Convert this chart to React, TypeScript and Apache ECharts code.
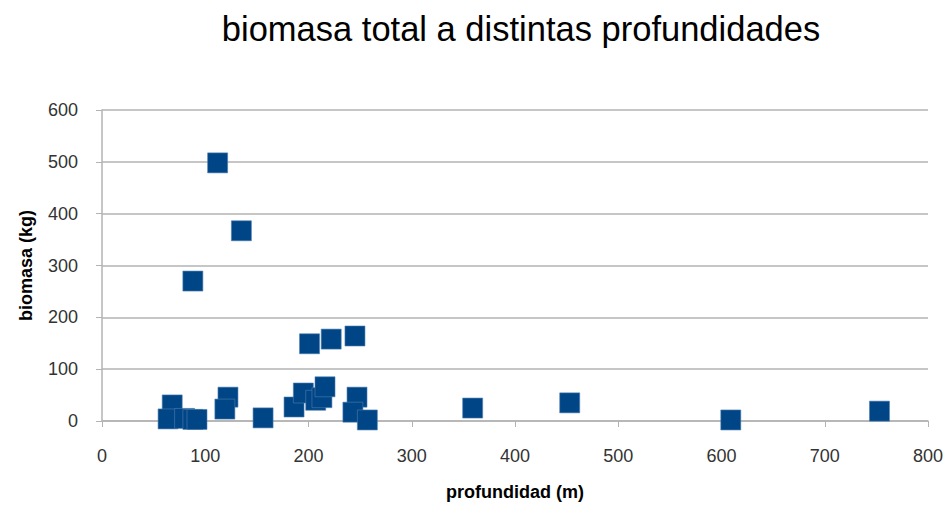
import React, { useEffect, useRef } from "react";
import * as echarts from "echarts";

const depth = [112, 135, 88, 201, 222, 245, 68, 64, 80, 88, 92, 122, 119, 156, 186, 195, 207, 213, 216, 247, 243, 257, 359, 453, 609, 753];
const biomass = [498, 367, 270, 149, 158, 164, 31, 4, 5, 3, 3, 46, 23, 6, 27, 54, 40, 45, 66, 46, 17, 2, 25, 35, 2, 19];
const titleText = "biomasa total a distintas profundidades";
const xName = "profundidad (m)";
const yName = "biomasa (kg)";

export default function App() {
  const ref = useRef<HTMLDivElement>(null);
  useEffect(() => {
    document.body.style.margin = "0";
    const chart = echarts.init(ref.current!, undefined, { renderer: "svg" });
    const data = depth.map((d, i) => [d, biomass[i]]);
    chart.setOption({
      animation: false,
      backgroundColor: "#ffffff",
      textStyle: { fontFamily: "Liberation Sans, Arial, sans-serif" },
      title: {
        text: titleText,
        left: 516,
        textAlign: "center",
        top: 6,
        textStyle: { fontSize: 34.5, fontWeight: "normal", color: "#000", fontFamily: "Liberation Sans, Arial, sans-serif" },
      },
      grid: { left: 102, right: 21, top: 110, bottom: 90 },
      xAxis: {
        type: "value",
        min: 0,
        max: 800,
        interval: 100,
        name: xName,
        nameLocation: "middle",
        nameGap: 62,
        nameTextStyle: { fontSize: 18, fontWeight: "bold", color: "#000" },
        axisLine: { show: true, lineStyle: { color: "#b3b3b3", width: 1.5 } },
        axisTick: { show: true, length: 6, lineStyle: { color: "#b3b3b3" } },
        axisLabel: { fontSize: 18, color: "#333", margin: 26 },
        splitLine: { show: false },
      },
      yAxis: {
        type: "value",
        min: 0,
        max: 600,
        interval: 100,
        name: yName,
        nameLocation: "middle",
        nameGap: 67,
        nameRotate: 90,
        nameTextStyle: { fontSize: 18, fontWeight: "bold", color: "#000" },
        axisLine: { show: true, lineStyle: { color: "#b3b3b3", width: 1.5 } },
        axisTick: { show: true, length: 6, lineStyle: { color: "#b3b3b3" } },
        axisLabel: { fontSize: 18, color: "#333", margin: 24 },
        splitLine: { show: true, lineStyle: { color: "#b3b3b3", width: 1.5 } },
      },
      series: [
        {
          type: "scatter",
          data,
          symbol: "rect",
          symbolSize: 20,
          itemStyle: { color: "#004586", opacity: 1, borderColor: "#4f7fb0", borderWidth: 0.6 },
        },
      ],
    });
    return () => chart.dispose();
  }, []);
  return <div ref={ref} style={{ position: "fixed", left: 0, top: 0, width: 949, height: 511 }} />;
}
